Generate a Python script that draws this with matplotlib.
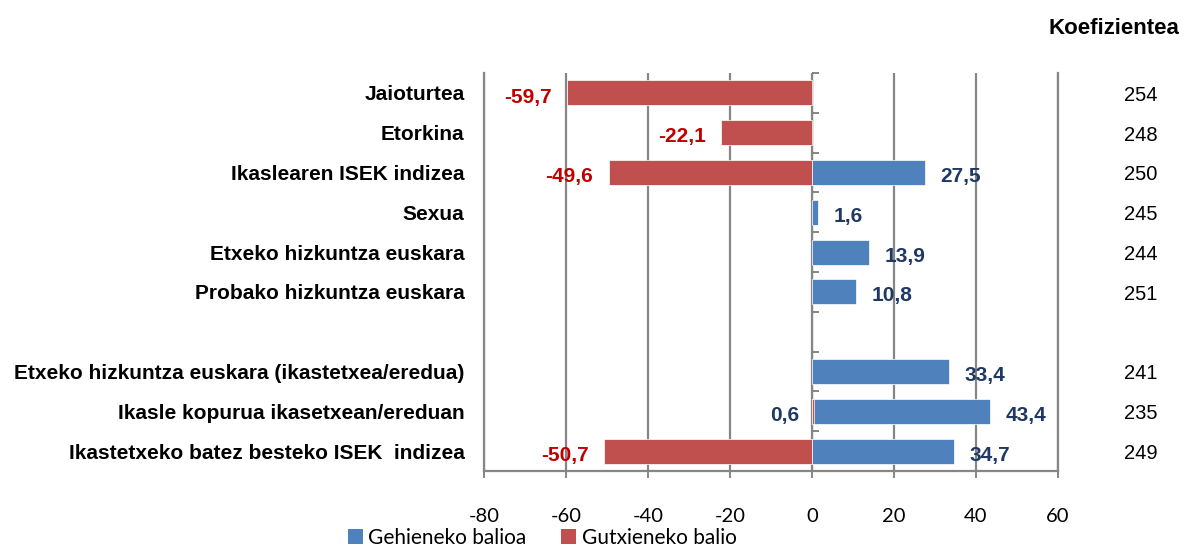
import numpy as np
import matplotlib
matplotlib.use("Agg")
import matplotlib.pyplot as plt
from matplotlib.patches import Patch

# Variables (blank entry separates student-level from school-level variables)
categories = [
    "Jaioturtea",
    "Etorkina",
    "Ikaslearen ISEK indizea",
    "Sexua",
    "Etxeko hizkuntza euskara",
    "Probako hizkuntza euskara",
    "",
    "Etxeko hizkuntza euskara (ikastetxea/eredua)",
    "Ikasle kopurua ikasetxean/ereduan",
    "Ikastetxeko batez besteko ISEK  indizea",
]
max_values = [np.nan, np.nan, 27.5, 1.6, 13.9, 10.8, np.nan, 33.4, 43.4, 34.7]
min_values = [-59.7, -22.1, -49.6, np.nan, np.nan, np.nan, np.nan, np.nan, 0.6, -50.7]
coefficients = ["254", "248", "250", "245", "244", "251", "", "241", "235", "249"]
x_ticks = [-80, -60, -40, -20, 0, 20, 40, 60]

series_names = ["Gehieneko balioa", "Gutxieneko balio"]
blue, red = "#4F81BD", "#C0504D"
navy_text, red_text = "#1F3864", "#C00000"
grid_gray = "#868686"

label_font = "Liberation Sans"
tick_font = "Lato"

fig = plt.figure(figsize=(11.86, 5.47), dpi=100)
ax = fig.add_axes([0.408, 0.139, 0.484, 0.7275])

y = np.arange(len(categories))
bar_h = 0.63

ax.barh(y, max_values, height=bar_h, color=blue, edgecolor="white",
        linewidth=0.5, zorder=3)
ax.barh(y, min_values, height=bar_h, color=red, edgecolor="white",
        linewidth=0.5, zorder=4)

def fmt(v):
    return f"{v:.1f}".replace(".", ",")

for yi, v in zip(y, max_values):
    if not np.isnan(v):
        ax.annotate(fmt(v), (v, yi), xytext=(11, -1.5), textcoords="offset points",
                    ha="left", va="center_baseline", fontsize=15, fontweight="bold",
                    color=navy_text, family=label_font, zorder=5)
for yi, v in zip(y, min_values):
    if not np.isnan(v):
        ax.annotate(fmt(v), (v, yi), xytext=(-11, -1.5), textcoords="offset points",
                    ha="right", va="center_baseline", fontsize=15, fontweight="bold",
                    color=red_text if v < 0 else navy_text,
                    family=label_font, zorder=5)

ax.set_xlim(x_ticks[0], x_ticks[-1])
ax.set_ylim(len(categories) - 0.5, -0.5)

# Vertical gridlines
ax.set_xticks(x_ticks)
ax.xaxis.grid(True, color=grid_gray, linewidth=1.6, zorder=0)
ax.set_axisbelow(True)
ax.set_xticklabels([str(t) for t in x_ticks], family=tick_font, fontsize=14.5)
ax.tick_params(axis="x", direction="out", length=5, width=1.4,
               color=grid_gray, pad=22)

ax.set_yticks(y)
ax.set_yticklabels(categories, family=label_font, fontsize=15, fontweight="bold")
ax.tick_params(axis="y", length=0, pad=14)

ax.spines["top"].set_visible(False)
for side in ["left", "right", "bottom"]:
    ax.spines[side].set_color(grid_gray)
    ax.spines[side].set_linewidth(1.6)

# Category axis drawn along zero with ticks at category boundaries
zero_pos = (0 - x_ticks[0]) / (x_ticks[-1] - x_ticks[0])
cat_axis = ax.secondary_yaxis(zero_pos)
cat_axis.set_yticks(np.arange(len(categories) + 1) - 0.5)
cat_axis.set_yticklabels([])
cat_axis.tick_params(axis="y", direction="out", length=5, width=1.4,
                     color=grid_gray)
cat_axis.spines["left"].set_color(grid_gray)
cat_axis.spines["left"].set_linewidth(1.6)

# Coefficient column on the right
for yi, c in zip(y, coefficients):
    ax.text(1.1446, yi + 0.06, c, transform=ax.get_yaxis_transform(), ha="center",
            va="center", fontsize=14.5, family=label_font, color="black")
ax.text(1.0976, 1.113, "Koefizientea", transform=ax.transAxes, ha="center",
        va="center", fontsize=16, fontweight="bold", family=label_font)

handles = [Patch(facecolor=blue, label=series_names[0]),
           Patch(facecolor=red, label=series_names[1])]
fig.legend(handles=handles, loc="center", bbox_to_anchor=(0.457, 0.0165),
           ncol=2, frameon=False, prop={"family": tick_font, "size": 15},
           handlelength=0.72, handleheight=0.72, handletextpad=0.25,
           columnspacing=1.7, borderpad=0)

fig.savefig("out.png", dpi=100)
